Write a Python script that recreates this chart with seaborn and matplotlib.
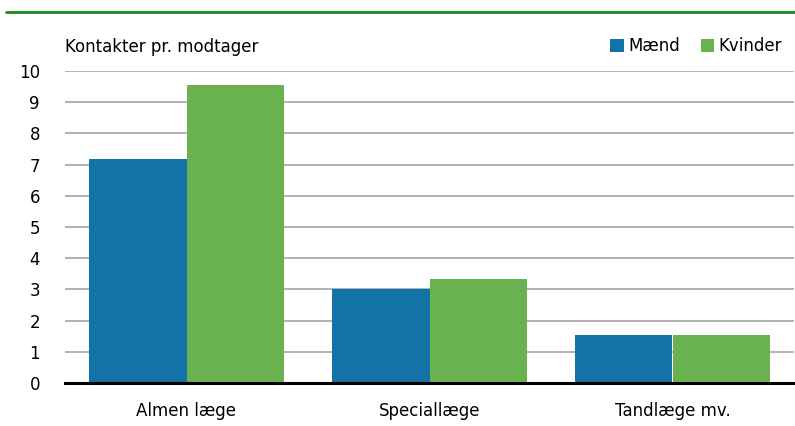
import matplotlib
matplotlib.use("Agg")
import matplotlib.pyplot as plt
import seaborn as sns
import pandas as pd
from matplotlib.patches import Patch
from matplotlib.lines import Line2D

categories = ["Almen læge", "Speciallæge", "Tandlæge mv."]
maend = [7.17, 3.01, 1.53]
kvinder = [9.55, 3.33, 1.53]
series = ["Mænd", "Kvinder"]
colors = ["#1473a6", "#6ab150"]
yticks = list(range(0, 11))

df = pd.DataFrame({
    "kategori": categories * 2,
    "værdi": maend + kvinder,
    "køn": [series[0]] * 3 + [series[1]] * 3,
})

sns.set_theme(style="white")
plt.rcParams['font.family'] = ['Liberation Sans Narrow', 'DejaVu Sans']
plt.rcParams['text.color'] = 'black'
plt.rcParams['xtick.color'] = 'black'
plt.rcParams['ytick.color'] = 'black'

fig = plt.figure(figsize=(7.95, 4.26), dpi=100)
ax = fig.add_axes([65/795, 1 - 383/426, (794 - 65)/795, (383 - 71)/426])

sns.barplot(data=df, x="kategori", y="værdi", hue="køn", palette=colors,
            width=0.8, ax=ax, legend=False, saturation=1, edgecolor="none")

ax.set_xlim(-0.5, 2.5)
ax.set_ylim(0, 10)
ax.set_yticks(yticks)
ax.set_yticklabels([str(t) for t in yticks], fontsize=12)
ax.tick_params(axis="y", length=0, pad=18, labelcolor="black")
ax.tick_params(axis="x", length=0, pad=14, labelsize=12, labelcolor="black")
ax.set_xlabel("")
ax.set_ylabel("")
ax.yaxis.grid(True, color="#a6a6a6", linewidth=1.2)
ax.set_axisbelow(True)
for s in ["top", "right", "left"]:
    ax.spines[s].set_visible(False)
ax.spines["bottom"].set_color("black")
ax.spines["bottom"].set_linewidth(2.2)
ax.spines["bottom"].set_zorder(5)

fig.text(65/795, 1 - 47/426, "Kontakter pr. modtager", fontsize=12,
         ha="left", va="center", color="black")

handles = [Patch(facecolor=c, edgecolor="none") for c in colors]
leg = fig.legend(handles, series, loc="center right", bbox_to_anchor=(789/795, 1 - 46/426),
                 ncol=2, frameon=False, fontsize=12, handlelength=0.8, handleheight=0.8,
                 handletextpad=0.3, columnspacing=1.2, borderaxespad=0)
for t in leg.get_texts():
    t.set_color("black")

fig.add_artist(Line2D([6/795, 1], [1 - 12/426, 1 - 12/426], color="#1a8a1a",
                      linewidth=2, transform=fig.transFigure))

fig.savefig("out.png", dpi=100)
